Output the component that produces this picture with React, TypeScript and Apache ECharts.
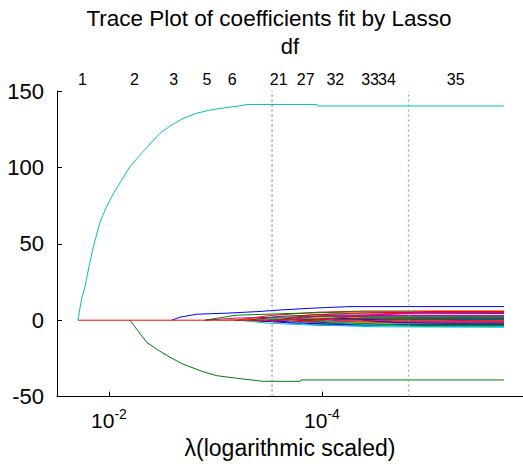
import React, { useEffect, useRef } from 'react';
import * as echarts from 'echarts';

const TITLE = 'Trace Plot of coefficients fit by Lasso';
const X_NAME = 'λ(logarithmic scaled)';
const DF_NAME = 'df';

// axis range in log10(lambda)
const X_LEFT_EXP = -1.512;
const X_RIGHT_EXP = -5.887;
const X_TICK_EXP = [-2, -4];
const Y_MIN = -50;
const Y_MAX = 150;
const Y_STEP = 50;

// degrees of freedom labels along the top
const DF_LABELS = ['1', '2', '3', '5', '6', '21', '27', '32', '33', '34', '35'];
const DF_EXP = [-1.751, -2.239, -2.607, -2.92, -3.157, -3.593, -3.847, -4.125, -4.451, -4.61, -5.255];

// cross-validation reference lambdas (log10)
const LAMBDA_1SE_EXP = -3.531;
const LAMBDA_MINMSE_EXP = -4.814;

// coefficient paths: [log10(lambda), coefficient]; coefficients are 0 before their first point
const P0: number[][] = [[-1.709, 0], [-1.728, 8], [-1.746, 15], [-1.775, 22], [-1.812, 35], [-1.853, 48], [-1.915, 64], [-1.972, 73.5], [-2.038, 82.5], [-2.113, 91], [-2.197, 100.5], [-2.319, 110.3], [-2.394, 116], [-2.479, 122.3], [-2.582, 127.5], [-2.695, 132], [-2.826, 135.5], [-2.948, 137.5], [-3.108, 139.2], [-3.23, 140.3], [-3.305, 141.2], [-3.953, 141.2], [-3.962, 140.2], [-5.709, 140.2]];
const P1: number[][] = [[-2.901, 0], [-3.2, 1.4], [-3.6, 2.0], [-4.2, 2.2], [-5.709, 2.2]];
const P2: number[][] = [[-3.023, 0], [-3.3, 0.9], [-3.9, 0.65], [-5.709, 0.65]];
const P3: number[][] = [[-3.174, 0], [-3.5, -0.9], [-4.0, -1.2], [-5.709, -1.3]];
const P4: number[][] = [[-2.589, 0], [-2.667, 2.0], [-2.823, 3.9], [-3.105, 4.6], [-3.387, 5.6], [-3.634, 6.8], [-3.887, 7.8], [-4.044, 8.3], [-4.263, 8.9], [-5.709, 8.9]];
const P5: number[][] = [[-2.197, 0], [-2.26, -5.9], [-2.354, -14.5], [-2.448, -19], [-2.573, -24.3], [-2.695, -28.7], [-2.883, -33.7], [-3.011, -36.3], [-3.199, -38], [-3.446, -40], [-3.793, -40], [-3.803, -39.1], [-5.709, -39.1]];
const P6: number[][] = [[-3.202, 0], [-3.5, 3.0], [-3.95, 5.2], [-4.4, 6.0], [-5.709, 6.0]];
const P7: number[][] = [[-3.23, 0], [-3.5, -2.0], [-4.0, -3.4], [-5.709, -3.7]];
const P8: number[][] = [[-3.258, 0], [-3.55, 1.5], [-4.0, 2.6], [-5.709, 2.4]];
const P9: number[][] = [[-3.286, 0], [-3.6, 1.2], [-4.2, 1.0], [-5.709, 1.0]];
const P10: number[][] = [[-3.315, 0], [-3.6, 2.5], [-4.1, 4.0], [-5.709, 4.4]];
const P11: number[][] = [[-3.343, 0], [-3.7, -1.8], [-4.3, -3.0], [-5.709, -3.0]];
const P12: number[][] = [[-2.901, 0], [-3.199, 3.3], [-3.418, 3.8], [-3.8, 4.6], [-4.3, 5.4], [-5.709, 5.4]];
const P13: number[][] = [[-3.371, 0], [-3.7, -0.8], [-4.2, -1.5], [-5.709, -1.5]];
const P14: number[][] = [[-3.399, 0], [-3.7, 2.0], [-4.3, 2.2], [-5.709, 2.2]];
const P15: number[][] = [[-3.427, 0], [-3.7, -1.2], [-4.2, -0.9], [-5.709, -0.9]];
const P16: number[][] = [[-3.455, 0], [-3.8, 1.6], [-4.6, 1.8], [-5.709, 1.8]];
const P17: number[][] = [[-3.484, 0], [-3.8, 0.6], [-4.4, 1.3], [-5.709, 1.3]];
const P18: number[][] = [[-3.512, 0], [-3.9, -2.4], [-4.5, -3.0], [-5.709, -3.0]];
const P19: number[][] = [[-3.54, 0], [-3.9, 2.6], [-4.4, 2.8], [-5.709, 2.8]];
const P20: number[][] = [[-3.568, 0], [-3.9, 3.5], [-4.5, 5.0], [-5.709, 5.0]];
const P21: number[][] = [[-3.624, 0], [-3.9, -3.0], [-4.5, -4.3], [-5.709, -4.6]];
const P22: number[][] = [[-3.671, 0], [-4.0, 3.0], [-4.6, 3.1], [-5.709, 3.1]];
const P23: number[][] = [[-3.718, 0], [-4.0, -1.2], [-4.6, -1.9], [-5.709, -1.9]];
const P24: number[][] = [[-3.765, 0], [-4.1, -2.0], [-4.6, -2.6], [-5.709, -2.6]];
const P25: number[][] = [[-3.803, 0], [-4.1, 0.8], [-4.6, 0.3], [-5.709, 0.3]];
const P26: number[][] = [[-3.84, 0], [-4.2, -1.8], [-4.8, -3.3], [-5.709, -3.3]];
const P27: number[][] = [[-3.887, 0], [-4.2, 1.8], [-4.8, 5.0], [-5.0, 5.7], [-5.709, 5.7]];
const P28: number[][] = [[-3.944, 0], [-4.3, -2.5], [-4.9, -4.1], [-5.709, -4.1]];
const P29: number[][] = [[-4.0, 0], [-4.3, 3.0], [-4.9, 4.8], [-5.709, 4.8]];
const P30: number[][] = [[-4.056, 0], [-4.4, -0.5], [-4.9, -0.3], [-5.709, -0.3]];
const P31: number[][] = [[-4.103, 0], [-4.4, 1.5], [-5.0, 1.6], [-5.709, 1.6]];
const P32: number[][] = [[-4.376, 0], [-4.7, -1.6], [-5.2, -2.0], [-5.709, -2.0]];
const P33: number[][] = [[-4.563, 0], [-4.9, 1.0], [-5.3, 1.2], [-5.709, 1.2]];
const P34: number[][] = [[-1.709, 0], [-5.155, 0], [-5.4, -0.3], [-5.709, -0.4]];

const COEF_PATHS = [P0, P1, P2, P3, P4, P5, P6, P7, P8, P9, P10, P11, P12, P13, P14, P15, P16, P17, P18, P19, P20, P21, P22, P23, P24, P25, P26, P27, P28, P29, P30, P31, P32, P33, P34];

const PALETTE = ['#0000FF', '#008000', '#FF0000', '#00BFBF', '#BF00BF', '#BFBF00', '#404040'];
const FONT = 'Liberation Sans, Arial, Helvetica, sans-serif';

export default function App() {
  const ref = useRef<HTMLDivElement>(null);
  useEffect(() => {
    if (!ref.current) return;
    const chart = echarts.init(ref.current, null, { renderer: 'svg' });
    const xMin = Math.pow(10, X_RIGHT_EXP);
    const xMax = Math.pow(10, X_LEFT_EXP);
    const series: any[] = COEF_PATHS.map((path, i) => ({
      type: 'line',
      xAxisIndex: 0,
      yAxisIndex: 0,
      data: path.map(([e, v]) => [Math.pow(10, e), v]),
      showSymbol: false,
      symbol: 'none',
      silent: true,
      z: 2,
      lineStyle: { width: 1, color: PALETTE[(i + 3) % 7] },
    }));
    const refLines = [
      { exp: LAMBDA_1SE_EXP, color: '#5a5aff' },
      { exp: LAMBDA_MINMSE_EXP, color: '#3cd23c' },
    ];
    refLines.forEach((r) => {
      series.push({
        type: 'line',
        xAxisIndex: 0,
        yAxisIndex: 0,
        data: [[Math.pow(10, r.exp), Y_MIN], [Math.pow(10, r.exp), Y_MAX]],
        showSymbol: false,
        symbol: 'none',
        silent: true,
        z: 3,
        lineStyle: { width: 1, color: r.color, type: [2, 3] },
      });
    });
    chart.setOption({
      animation: false,
      backgroundColor: '#ffffff',
      textStyle: { fontFamily: FONT },
      grid: { left: 57, right: 0, top: 91, bottom: 66, containLabel: false },
      graphic: [
        {
          type: 'text',
          x: 269,
          y: 18,
          style: { text: TITLE, fontSize: 22.5, fontFamily: FONT, fill: '#000', align: 'center', verticalAlign: 'middle' },
        },
      ],
      xAxis: [
        {
          type: 'log',
          logBase: 10,
          inverse: true,
          min: xMin,
          max: xMax,
          position: 'bottom',
          name: X_NAME,
          nameLocation: 'middle',
          nameGap: 34,
          nameTextStyle: { fontSize: 23, color: '#000', fontFamily: FONT },
          axisLine: { show: true, onZero: false, lineStyle: { color: '#000', width: 1 } },
          axisTick: { show: true, inside: true, length: 5, lineStyle: { color: '#000' }, customValues: X_TICK_EXP.map((e) => Math.pow(10, e)) },
          splitLine: { show: false },
          minorTick: { show: false },
          axisLabel: {
            margin: 10,
            color: '#000',
            customValues: X_TICK_EXP.map((e) => Math.pow(10, e)),
            formatter: (v: number) => '{b|10}{s|' + Math.round(Math.log10(v)) + '}',
            rich: {
              b: { fontSize: 21, color: '#000', fontFamily: FONT },
              s: { fontSize: 14, color: '#000', fontFamily: FONT, padding: [0, 0, 14, 0] },
            },
          },
        },
        {
          type: 'log',
          logBase: 10,
          inverse: true,
          min: xMin,
          max: xMax,
          position: 'top',
          name: DF_NAME,
          nameLocation: 'middle',
          nameGap: 34,
          nameTextStyle: { fontSize: 22, color: '#000', fontFamily: FONT },
          axisLine: { show: false, onZero: false },
          axisTick: { show: false },
          splitLine: { show: false },
          axisLabel: {
            margin: 4,
            fontSize: 16,
            color: '#000',
            customValues: DF_EXP.map((e) => Math.pow(10, e)),
            formatter: (v: number) => {
              const lv = Math.log10(v);
              const idx = DF_EXP.findIndex((e) => Math.abs(e - lv) < 1e-6);
              return idx >= 0 ? DF_LABELS[idx] : '';
            },
          },
        },
      ],
      yAxis: {
        type: 'value',
        min: Y_MIN,
        max: Y_MAX,
        interval: Y_STEP,
        axisLine: { show: true, onZero: false, lineStyle: { color: '#000', width: 1 } },
        axisTick: { show: true, inside: true, length: 5, lineStyle: { color: '#000' } },
        splitLine: { show: false },
        axisLabel: { fontSize: 22, color: '#000', margin: 13, fontFamily: FONT },
      },
      series,
    });
    return () => chart.dispose();
  }, []);
  return <div ref={ref} style={{ position: 'fixed', left: 0, top: 0, width: 523, height: 464 }} />;
}
